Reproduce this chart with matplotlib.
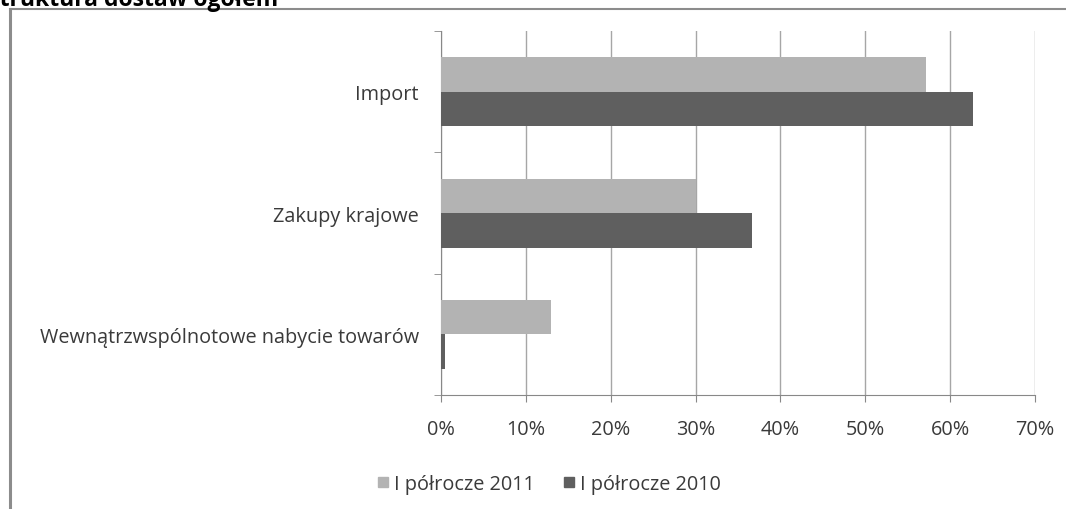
import matplotlib.pyplot as plt
from matplotlib.lines import Line2D
from matplotlib.ticker import FuncFormatter, MultipleLocator

plt.rcParams['font.family'] = ['Open Sans', 'DejaVu Sans']

# shares of total supply, percent
categories = ["Import", "Zakupy krajowe", "Wewnątrzwspólnotowe nabycie towarów"]
h1_2011 = [57.1, 30.0, 13.0]
h1_2010 = [62.7, 36.6, 0.5]
series_names = ["I półrocze 2011", "I półrocze 2010"]

LIGHT = "#b3b3b3"
DARK = "#5f5f5f"
TEXT = "#3a3a3a"
FS = 14.3

fig = plt.figure(figsize=(10.66, 5.10), dpi=100)
ax = fig.add_axes([0.4137, 0.2235, 0.971 - 0.4137, 0.937 - 0.2235])

n = len(categories)
pos = [n - 1 - i for i in range(n)]  # first category at the top
bh = 0.285
ax.barh([p + bh / 2 for p in pos], h1_2011, height=bh, color=LIGHT, zorder=3)
ax.barh([p - bh / 2 for p in pos], h1_2010, height=bh, color=DARK, zorder=3)

ax.set_xlim(0, 70)
ax.set_ylim(-0.5, n - 0.5)
ax.xaxis.set_major_locator(MultipleLocator(10))
ax.xaxis.set_major_formatter(FuncFormatter(lambda v, _: f"{v:.0f}%"))
ax.grid(axis="x", color="#a6a6a6", linewidth=1, zorder=0)

ax.set_yticks(pos)
ax.set_yticklabels(categories)
# category boundary ticks on the value axis
ax.set_yticks([p - 0.5 for p in range(n + 1)], minor=True)
ax.tick_params(axis="y", which="major", length=0, pad=16, labelsize=FS, labelcolor=TEXT)
ax.tick_params(axis="y", which="minor", length=5, color="#888888")
ax.tick_params(axis="x", length=5, color="#888888", labelsize=FS, labelcolor=TEXT, pad=12)

for s in ["top", "right"]:
    ax.spines[s].set_visible(False)
for s in ["left", "bottom"]:
    ax.spines[s].set_color("#888888")

handles = [Line2D([], [], marker="s", linestyle="", markersize=7.5, color=LIGHT),
           Line2D([], [], marker="s", linestyle="", markersize=7.5, color=DARK)]
fig.legend(handles, series_names, loc="center", bbox_to_anchor=(0.5146, 0.049),
           ncol=2, frameon=False, fontsize=FS, handlelength=0.7,
           handletextpad=0.2, columnspacing=1.4, labelcolor=TEXT,
           borderpad=0, borderaxespad=0)

# chart frame
fig.add_artist(Line2D([10 / 1066, 10 / 1066], [0, 1 - 10 / 510],
                      transform=fig.transFigure, color="#8c8c8c", linewidth=2.2))
fig.add_artist(Line2D([10 / 1066, 1.0], [1 - 10 / 510, 1 - 10 / 510],
                      transform=fig.transFigure, color="#8c8c8c", linewidth=1.5))

fig.text(-13 / 1066, 1 - 6 / 510, "Struktura dostaw ogółem", fontsize=16.5,
         fontweight="bold", ha="left", va="baseline", color="black")

fig.savefig("out.png", dpi=100)
